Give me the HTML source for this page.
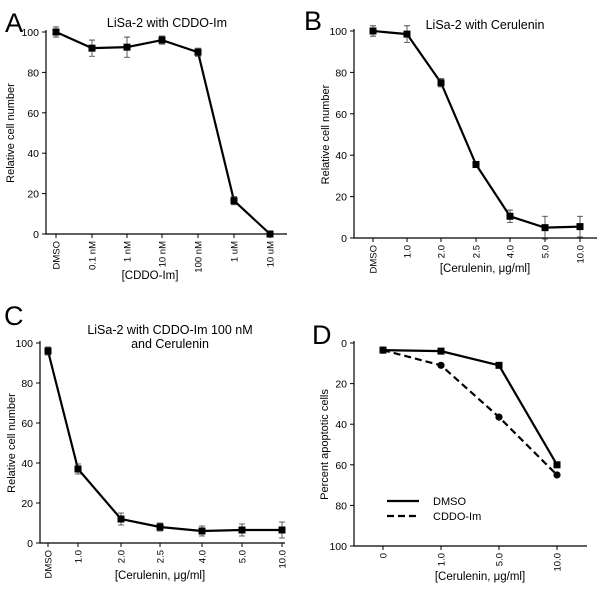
<!DOCTYPE html>
<html><head><meta charset="utf-8"><style>
html,body{margin:0;padding:0;background:#fff;}
svg{display:block;font-family:"Liberation Sans",sans-serif;}
</style></head><body>
<svg id="fig" width="602" height="589" viewBox="0 0 602 589"></svg>
<script>
// Panel A
const aCats = ["DMSO","0.1 nM","1 nM","10 nM","100 nM","1 uM","10 uM"];
const aVals = [100,92,92.5,96,90,16.5,0];
const aErr = [2.5,4,5,2,2,2,1.5];
// Panel B
const bCats = ["DMSO","1.0","2.0","2.5","4.0","5.0","10.0"];
const bVals = [100,98.5,75,35.5,10.5,5,5.5];
const bErr = [2.5,4,2,1.5,3,5.5,5];
// Panel C
const cCats = ["DMSO","1.0","2.0","2.5","4.0","5.0","10.0"];
const cVals = [96,37,12,8,6,6.5,6.5];
const cErr = [2,2.5,3,2,2.5,3,4];
// Panel D
const dCats = ["0","1.0","5.0","10.0"];
const dDmso = [3.5,4,11,60];
const dCddo = [3.5,11,36.5,65];
const yTicks = [0,20,40,60,80,100];

const NS="http://www.w3.org/2000/svg";
const svg=document.getElementById('fig');
function mk(tag,attrs,parent,text){
  const e=document.createElementNS(NS,tag);
  for(const k in attrs)e.setAttribute(k,attrs[k]);
  if(text!==undefined)e.textContent=text;
  (parent||svg).appendChild(e);return e;
}
function panel(cfg){
  const g=mk('g',{});
  
  
  const y=v=>cfg.inv? cfg.y0+(v/100)*(cfg.y100-cfg.y0) : cfg.y0-(v/100)*(cfg.y0-cfg.y100);
  const top=Math.min(cfg.y0,cfg.y100), bot=Math.max(cfg.y0,cfg.y100);
  const lab=mk('text',{x:cfg.lx,y:cfg.ly,'font-size':27},g,cfg.id);
  
  
  cfg.title.forEach((t,i)=>{const e=mk('text',{x:cfg.tx,y:cfg.ty+i*14,'font-size':12.5,'text-anchor':'middle'},g,t);
    });
  const ax=mk('path',{d:`M${cfg.ax} ${top-2}V${bot}H${cfg.xend}`,stroke:'#000','stroke-width':1.2,fill:'none'},g);
  
  yTicks.forEach(v=>{
    mk('line',{x1:cfg.ax-4,x2:cfg.ax,y1:y(v),y2:y(v),stroke:'#000'},g);
    const t=mk('text',{x:cfg.ax-7,y:y(v)+4,'font-size':10.5,'text-anchor':'end'},g,String(v));
    
  });
  cfg.cats.forEach((c,i)=>{
    const x=cfg.xs[i];
    mk('line',{x1:x,x2:x,y1:bot,y2:bot+4,stroke:'#000'},g);
    const t=mk('text',{x:0,y:0,'font-size':9.5,'text-anchor':'end',transform:`translate(${x+3.5},${bot+7}) rotate(-90)`},g,c);
    
  });
  const yt=mk('text',{x:0,y:0,'font-size':11,'text-anchor':'middle',transform:`translate(${cfg.ylx},${(top+bot)/2}) rotate(-90)`},g,cfg.ylabel);
  
  const xt=mk('text',{x:cfg.xlx,y:cfg.xly,'font-size':11.5,'text-anchor':'middle'},g,cfg.xlabel);
  
  cfg.series.forEach(s=>{
    const pts=s.vals.map((v,i)=>[cfg.xs[i],y(v)]);
    const pl=mk('polyline',{points:pts.map(p=>p.join(',')).join(' '),fill:'none',stroke:'#000','stroke-width':2.2,'stroke-dasharray':s.dash||'none'},g);
    
    pts.forEach((p,i)=>{
      if(s.err){const e=s.err[i];const y1=y(s.vals[i]-e),y2=y(s.vals[i]+e);
        mk('path',{d:`M${p[0]} ${y1}V${y2}M${p[0]-3} ${y1}h6M${p[0]-3} ${y2}h6`,stroke:'#333','stroke-width':0.8,fill:'none'},g);}
      let m;
      if(s.circle)m=mk('circle',{cx:p[0],cy:p[1],r:3.6,fill:'#000'},g);
      else m=mk('rect',{x:p[0]-3.5,y:p[1]-3.5,width:7,height:7,fill:'#000'},g);
      
    });
  });
  return g;
}
panel({id:'A',lx:5,ly:32,tx:167,ty:27,title:['LiSa-2 with CDDO-Im'],ax:46,y0:234,y100:32,xend:287,
  cats:aCats,xs:[56,92,127,162,198,234,270],ylx:14,ylabel:'Relative cell number',xlx:150,xly:279,xlabel:'[CDDO-Im]',
  series:[{vals:aVals,err:aErr}]});
panel({id:'B',lx:304,ly:30,tx:485,ty:29,title:['LiSa-2 with Cerulenin'],ax:354,y0:238,y100:31,xend:597,
  cats:bCats,xs:[373,407,441,476,510,545,580],ylx:329,ylabel:'Relative cell number',xlx:485,xly:272,xlabel:'[Cerulenin, μg/ml]',
  series:[{vals:bVals,err:bErr}]});
panel({id:'C',lx:4,ly:325,tx:170,ty:334,title:['LiSa-2 with CDDO-Im 100 nM','and Cerulenin'],ax:40,y0:543,y100:343,xend:285,
  cats:cCats,xs:[48,78,121,160,202,242,282],ylx:15,ylabel:'Relative cell number',xlx:160,xly:579,xlabel:'[Cerulenin, μg/ml]',
  series:[{vals:cVals,err:cErr}]});
panel({id:'D',lx:312,ly:344,tx:0,ty:0,title:[],ax:354,y0:343,y100:546,inv:true,xend:587,
  cats:dCats,xs:[383,441,499,557],ylx:328,ylabel:'Percent apoptotic cells',xlx:480,xly:580,xlabel:'[Cerulenin, μg/ml]',
  series:[{vals:dDmso},{vals:dCddo,circle:true,dash:'7,4'}]});
// legend D
const lg=mk('g',{});


mk('line',{x1:387,x2:419,y1:501,y2:501,stroke:'#000','stroke-width':2.2},lg);
mk('line',{x1:387,x2:419,y1:516,y2:516,stroke:'#000','stroke-width':2.2,'stroke-dasharray':'7,4'},lg);
const l1=mk('text',{x:433,y:505,'font-size':11},lg,'DMSO');


const l2=mk('text',{x:433,y:520,'font-size':11},lg,'CDDO-Im');


</script>
</body></html>
